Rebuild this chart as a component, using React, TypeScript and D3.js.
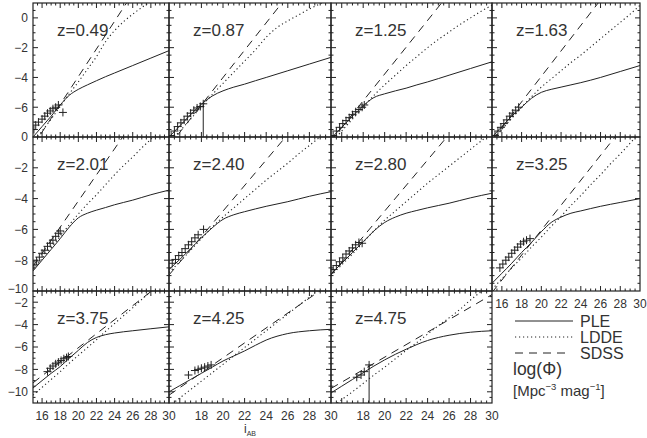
import React from "react";
import * as d3 from "d3";

// ---------------- data ----------------
const redshifts = ["0.49", "0.87", "1.25", "1.63", "2.01", "2.40", "2.80", "3.25", "3.75", "4.25", "4.75"];

// PLE model (solid)
const pleMag = [15, 16, 17, 18, 19, 20, 21, 22, 23, 24, 26, 28, 30];
const pleLogPhi = [
  [-8.0, -7.3, -6.6, -5.85, -5.2, -4.8, -4.5, -4.22, -3.95, -3.7, -3.2, -2.7, -2.2],
  [-8.0, -7.25, -6.5, -5.8, -5.25, -4.9, -4.65, -4.45, -4.22, -4.0, -3.55, -3.1, -2.65],
  [-8.1, -7.35, -6.6, -5.9, -5.35, -5.1, -4.9, -4.72, -4.5, -4.3, -3.85, -3.4, -2.95],
  [-8.0, -7.3, -6.6, -6.0, -5.4, -5.0, -4.8, -4.65, -4.5, -4.35, -4.0, -3.6, -3.2],
  [-8.7, -8.0, -7.3, -6.6, -5.85, -5.25, -4.95, -4.75, -4.58, -4.4, -4.1, -3.75, -3.45],
  [-8.6, -7.95, -7.25, -6.55, -5.9, -5.35, -5.05, -4.85, -4.67, -4.5, -4.2, -3.85, -3.55],
  [-8.9, -8.2, -7.5, -6.8, -6.1, -5.55, -5.2, -4.95, -4.77, -4.6, -4.3, -3.95, -3.65],
  [-9.5, -8.85, -8.2, -7.5, -6.85, -6.15, -5.55, -5.2, -4.95, -4.8, -4.5, -4.25, -4.0],
  [-9.66, -9.0, -8.35, -7.75, -7.0, -6.3, -5.6, -5.15, -4.9, -4.75, -4.55, -4.37, -4.2],
  [-10.0, -9.45, -8.9, -8.35, -7.8, -7.25, -6.8, -6.35, -5.85, -5.38, -4.8, -4.55, -4.42],
  [-10.1, -9.5, -8.9, -8.3, -7.7, -7.15, -6.65, -6.2, -5.78, -5.42, -4.95, -4.68, -4.55],
];

// LDDE model (dotted)
const lddeMag = [15, 16, 17, 18, 19, 20, 21, 22, 23, 24, 25, 26, 27, 28, 29, 30];
const lddeLogPhi = [
  [-8.4, -7.6, -6.8, -5.95, -5.1, -4.3, -3.45, -2.6, -1.6, -0.85, -0.25, 0.25, 0.7, 1.1, 1.5, 1.9],
  [-8.4, -7.6, -6.8, -5.95, -5.15, -4.4, -3.65, -2.9, -2.15, -1.3, -0.65, -0.2, 0.2, 0.6, 0.95, 1.3],
  [-8.4, -7.6, -6.8, -6.0, -5.2, -4.5, -3.85, -3.2, -2.6, -2.0, -1.45, -0.95, -0.45, 0.0, 0.45, 0.85],
  [-8.3, -7.5, -6.75, -6.0, -5.3, -4.65, -4.1, -3.55, -3.0, -2.5, -1.95, -1.4, -0.85, -0.3, 0.25, 0.85],
  [-8.6, -7.9, -7.2, -6.45, -5.7, -5.0, -4.35, -3.75, -3.1, -2.45, -1.85, -1.3, -0.7, -0.15, 0.4, 0.9],
  [-8.8, -8.1, -7.35, -6.6, -5.85, -5.2, -4.6, -4.0, -3.4, -2.8, -2.25, -1.7, -1.1, -0.55, 0.0, 0.5],
  [-9.0, -8.3, -7.6, -6.85, -6.1, -5.4, -4.8, -4.2, -3.6, -3.0, -2.45, -1.9, -1.35, -0.8, -0.25, 0.3],
  [-9.9, -9.2, -8.5, -7.85, -7.15, -6.5, -5.8, -5.15, -4.45, -3.8, -3.1, -2.45, -1.75, -1.1, -0.4, 0.3],
  [-10.3, -9.6, -8.9, -8.2, -7.45, -6.75, -6.05, -5.35, -4.6, -3.9, -3.2, -2.5, -1.75, -1.05, -0.35, 0.35],
  [-11.3, -10.55, -9.8, -9.05, -8.3, -7.55, -6.8, -6.05, -5.3, -4.55, -3.8, -3.05, -2.3, -1.55, -0.8, -0.05],
  [-11.45, -10.7, -10.0, -9.25, -8.5, -7.8, -7.05, -6.3, -5.6, -4.85, -4.1, -3.4, -2.65, -1.8, -1.05, -0.35],
];

// SDSS (dashed)
const sdssMag = [15, 30];
const sdssLogPhi = [
  [-8.6, 5.36],
  [-8.6, 5.18],
  [-8.27, 5.23],
  [-8.21, 4.63],
  [-8.4, 4.33],
  [-8.96, 3.49],
  [-8.96, 3.49],
  [-10.1, 2.05],
  [-9.2, 0.2],
  [-10.3, -0.3],
  [-9.7, -1.32],
];

// observed points (+)
const qsoMag = [
  [15.1, 15.3, 15.6, 16.0, 16.3, 16.6, 16.9, 17.2, 17.5, 17.8, 18.3],
  [15.2, 15.5, 15.8, 16.1, 16.4, 16.7, 17.0, 17.3, 17.6, 17.9, 18.17],
  [15.2, 15.5, 15.8, 16.1, 16.4, 16.7, 17.0, 17.3, 17.6, 17.9, 18.1],
  [15.3, 15.6, 15.9, 16.2, 16.5, 16.8, 17.1, 17.4, 17.7],
  [15.1, 15.4, 15.7, 16.0, 16.3, 16.6, 16.9, 17.2, 17.5, 17.8, 18.0],
  [15.3, 15.6, 15.9, 16.2, 16.5, 16.8, 17.1, 17.4, 17.7, 18.2],
  [15.2, 15.5, 15.8, 16.1, 16.4, 16.7, 17.0, 17.3, 17.6, 17.9],
  [15.8, 16.1, 16.4, 16.7, 17.0, 17.3, 17.6, 17.9, 18.2, 18.5, 18.85],
  [16.6, 16.9, 17.2, 17.5, 17.8, 18.1, 18.4, 18.7, 18.9],
  [16.8, 17.4, 17.7, 18.0, 18.3, 18.6, 18.9],
  [17.4, 17.8, 18.1, 18.55],
];
const qsoLogPhi = [
  [-7.5, -7.2, -7.0, -6.8, -6.6, -6.4, -6.25, -6.1, -6.0, -5.85, -6.35],
  [-7.9, -7.6, -7.3, -7.05, -6.85, -6.6, -6.4, -6.2, -6.05, -5.95, -5.77],
  [-7.9, -7.6, -7.35, -7.1, -6.9, -6.7, -6.5, -6.3, -6.15, -6.0, -5.85],
  [-7.9, -7.6, -7.35, -7.1, -6.85, -6.6, -6.4, -6.2, -6.0],
  [-8.3, -8.05, -7.8, -7.55, -7.35, -7.1, -6.9, -6.7, -6.45, -6.25, -6.1],
  [-8.2, -7.95, -7.7, -7.5, -7.25, -7.0, -6.8, -6.55, -6.35, -6.0],
  [-8.6, -8.35, -8.1, -7.85, -7.6, -7.4, -7.2, -7.0, -6.85, -6.9],
  [-8.5, -8.25, -8.0, -7.8, -7.55, -7.35, -7.15, -6.95, -6.8, -6.7, -6.6],
  [-8.2, -7.9, -7.7, -7.5, -7.35, -7.2, -7.05, -6.95, -6.85],
  [-8.5, -8.1, -8.0, -7.9, -7.8, -7.7, -7.6],
  [-8.7, -8.5, -8.2, -7.6],
];

// points with long lower error bars
const errPanel = [1, 10];
const errMag = [18.17, 18.55];
const errTop = [-5.77, -7.6];

// axis labels
const xLabelsFull = [16, 18, 20, 22, 24, 26, 28, 30];
const xLabelsTrim = [18, 20, 22, 24, 26, 28, 30];
const yLabelsByRow = [
  [0, -2, -4, -6],
  [0, -2, -4, -6, -8, -10],
  [-2, -4, -6, -8, -10],
];
const rowDomains: [number, number][] = [
  [-8, 1],
  [-10, 0],
  [-11, -1],
];
const magDomain: [number, number] = [15, 30];

// ---------------- layout ----------------
const W = 647;
const H = 438;
const colEdges = [33, 169, 331, 492, 640];
const rowEdges = [3, 137, 291, 403];
const INK = "#222";
const TXT = "#333";
const FONT = "'Liberation Sans', Arial, sans-serif";

const fmt = (v: number) => (v < 0 ? "\u2212" + Math.abs(v) : String(v));

function Panel({ k }: { k: number }) {
  const row = Math.floor(k / 4);
  const col = k % 4;
  const x0 = colEdges[col];
  const x1 = colEdges[col + 1];
  const y0 = rowEdges[row];
  const y1 = rowEdges[row + 1];
  const xs = d3.scaleLinear().domain(magDomain).range([x0, x1]);
  const ys = d3.scaleLinear().domain(rowDomains[row]).range([y1, y0]);
  const clipId = `clip${k}`;

  const ple = d3
    .line<number>()
    .x((_, i) => xs(pleMag[i]))
    .y((d) => ys(d))
    .curve(d3.curveMonotoneX)(pleLogPhi[k]);
  const ldde = d3
    .line<number>()
    .x((_, i) => xs(lddeMag[i]))
    .y((d) => ys(d))
    .curve(d3.curveMonotoneX)(lddeLogPhi[k]);
  const sdss = d3
    .line<number>()
    .x((_, i) => xs(sdssMag[i]))
    .y((d) => ys(d))(sdssLogPhi[k]);

  const [dmin, dmax] = rowDomains[row];
  const xMinor = d3.range(15.5, 30, 0.5);
  const yMinor = d3.range(dmin + 0.5, dmax - 1e-6, 0.5);
  const tickPath: string[] = [];
  xMinor.forEach((v) => {
    const major = Math.abs(v % 2) < 1e-6;
    const L = major ? 5 : 2.5;
    const x = xs(v);
    tickPath.push(`M${x},${y1}v${-L}M${x},${y0}v${L}`);
  });
  yMinor.forEach((v) => {
    const major = Math.abs(v % 2) < 1e-6;
    const L = major ? 5 : 2.5;
    const y = ys(v);
    tickPath.push(`M${x0},${y}h${L}M${x1},${y}h${-L}`);
  });

  const plus = qsoMag[k]
    .map((m, i) => {
      const x = xs(m);
      const y = ys(qsoLogPhi[k][i]);
      return `M${x - 4},${y}h8M${x},${y - 4}v8`;
    })
    .join("");

  const ei = errPanel.indexOf(k);

  let xLabels: number[] | null = null;
  if (row === 2 && col === 0) xLabels = xLabelsFull;
  else if (row === 2) xLabels = xLabelsTrim;
  else if (row === 1 && col === 3) xLabels = xLabelsFull;

  return (
    <g>
      <defs>
        <clipPath id={clipId}>
          <rect x={x0} y={y0} width={x1 - x0} height={y1 - y0} />
        </clipPath>
      </defs>
      <g clipPath={`url(#${clipId})`} fill="none" stroke={INK} strokeWidth={1}>
        <path d={ple || ""} />
        <path d={ldde || ""} strokeDasharray="1.2,2.8" strokeWidth={1.1} />
        <path d={sdss || ""} strokeDasharray="8,6" />
        <path d={plus} strokeWidth={1} />
        {ei >= 0 && <path d={`M${xs(errMag[ei])},${ys(errTop[ei])}V${ys(dmin)}`} />}
      </g>
      <path d={tickPath.join("")} stroke={INK} strokeWidth={1} fill="none" />
      <rect x={x0} y={y0} width={x1 - x0} height={y1 - y0} fill="none" stroke={INK} strokeWidth={1.2} />
      <text x={x0 + 24} y={y0 + 33} fontSize={17} fill={TXT} fontFamily={FONT}>
        {"z=" + redshifts[k]}
      </text>
      {col === 0 &&
        yLabelsByRow[row].map((v) => (
          <text
            key={v}
            x={28}
            y={ys(v) - (row === 1 && v === -10 ? 2 : 0)}
            dy="0.36em"
            textAnchor="end"
            fontSize={12}
            fill={TXT}
            fontFamily={FONT}
          >
            {fmt(v)}
          </text>
        ))}
      {xLabels &&
        xLabels.map((v) => (
          <text key={v} x={xs(v)} y={y1 + 17} textAnchor="middle" fontSize={12} fill={TXT} fontFamily={FONT}>
            {fmt(v)}
          </text>
        ))}
    </g>
  );
}

export default function App() {
  const legendX0 = 515;
  const legendX1 = 573;
  return (
    <svg
      width={W}
      height={H}
      viewBox={`0 0 ${W} ${H}`}
      style={{ position: "absolute", left: 0, top: 0, background: "#fff" }}
    >
      <rect x={0} y={0} width={W} height={H} fill="#fff" />
      {redshifts.map((_, k) => (
        <Panel key={k} k={k} />
      ))}
      {/* x-axis title */}
      <text x={244} y={433} fontSize={12} fill={TXT} fontFamily={FONT}>
        i
        <tspan fontSize={7} dy={3}>
          AB
        </tspan>
      </text>
      {/* legend */}
      <g stroke={INK} strokeWidth={1} fill="none">
        <line x1={legendX0} x2={legendX1} y1={321} y2={321} />
        <line x1={legendX0} x2={legendX1} y1={337} y2={337} strokeDasharray="1.2,2.8" />
        <line x1={legendX0} x2={legendX1 - 5} y1={353} y2={353} strokeDasharray="8,6" />
      </g>
      <g fontSize={16} fill={TXT} fontFamily={FONT}>
        <text x={580} y={327}>PLE</text>
        <text x={580} y={343}>LDDE</text>
        <text x={580} y={359}>SDSS</text>
        <text x={513} y={375} fontSize={17.5}>
          log(Φ)
        </text>
        <text x={513} y={396} fontSize={15}>
          [Mpc
          <tspan fontSize={9.5} dy={-6}>
            −3
          </tspan>
          <tspan dy={6}> mag</tspan>
          <tspan fontSize={9.5} dy={-6}>
            −1
          </tspan>
          <tspan dy={6}>]</tspan>
        </text>
      </g>
    </svg>
  );
}
